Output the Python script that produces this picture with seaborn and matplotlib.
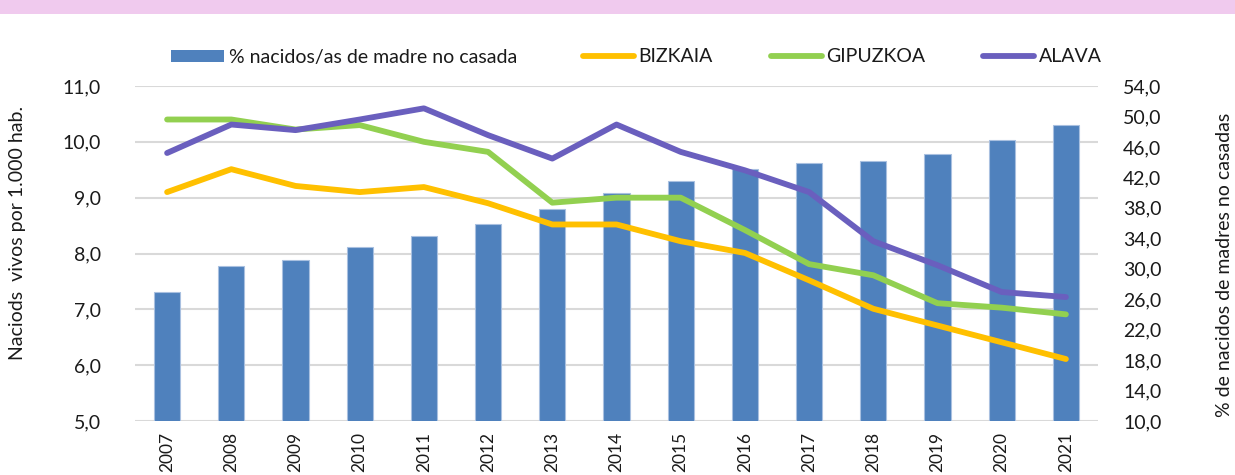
import numpy as np
import pandas as pd
import matplotlib
matplotlib.use("Agg")
import matplotlib.pyplot as plt
from matplotlib.patches import Rectangle, Patch
from matplotlib.lines import Line2D
from matplotlib.ticker import FuncFormatter, FixedLocator
import seaborn as sns

# ---- data ----
years = ["2007", "2008", "2009", "2010", "2011", "2012", "2013", "2014",
         "2015", "2016", "2017", "2018", "2019", "2020", "2021"]
pct_no_casada = [27.0, 30.4, 31.1, 32.8, 34.3, 35.9, 37.9, 39.9,
                 41.5, 43.1, 43.9, 44.2, 45.1, 46.9, 48.9]
bizkaia = [9.10, 9.51, 9.21, 9.10, 9.19, 8.90, 8.52, 8.52,
           8.22, 8.01, 7.52, 7.01, 6.71, 6.41, 6.11]
gipuzkoa = [10.40, 10.40, 10.22, 10.30, 10.00, 9.82, 8.91, 9.00,
            9.00, 8.42, 7.81, 7.61, 7.11, 7.03, 6.91]
alava = [9.80, 10.31, 10.21, 10.40, 10.60, 10.12, 9.70, 10.31,
         9.82, 9.49, 9.10, 8.22, 7.79, 7.31, 7.22]
left_ticks = [5.0, 6.0, 7.0, 8.0, 9.0, 10.0, 11.0]
right_ticks = [10.0, 14.0, 18.0, 22.0, 26.0, 30.0, 34.0, 38.0, 42.0, 46.0, 50.0, 54.0]

bar_label = "% nacidos/as de madre no casada"
series_names = ["BIZKAIA", "GIPUZKOA", "ALAVA"]
colors = {"BIZKAIA": "#FFC000", "GIPUZKOA": "#92D050", "ALAVA": "#6A5FBE"}
bar_color = "#4F81BD"

sns.set_theme(style="white")
plt.rcParams["font.family"] = ["Lato", "DejaVu Sans"]
FS = 14
TXT = "#1a1a1a"

W, H = 1235, 475
fig = plt.figure(figsize=(W / 100, H / 100), dpi=100)
fig.patch.set_facecolor("white")
fig.patches.append(Rectangle((0, 1 - 14 / H), 1, 14 / H, transform=fig.transFigure,
                             facecolor="#F0CAEE", edgecolor="none", zorder=0))

left, right, top, bottom = 135 / W, 1098 / W, 1 - 86 / H, 1 - 421 / H
ax = fig.add_axes([left, bottom, right - left, top - bottom])
ax2 = ax.twinx()
ax3 = ax.twinx()

df_bar = pd.DataFrame({"year": years, "pct": pct_no_casada})
df_lines = pd.DataFrame({"pos": np.arange(len(years)), "BIZKAIA": bizkaia,
                         "GIPUZKOA": gipuzkoa, "ALAVA": alava}).melt(
    id_vars="pos", var_name="serie", value_name="val")

# bars (right scale)
sns.barplot(data=df_bar, x="year", y="pct", ax=ax2, color=bar_color, width=0.41,
            saturation=1, edgecolor="#A9C0E0", linewidth=0.8)
ax2.set_ylim(10, 54)
ax2.yaxis.set_major_locator(FixedLocator(right_ticks))

# lines (left scale)
sns.lineplot(data=df_lines, x="pos", y="val", hue="serie", palette=colors,
             hue_order=series_names, ax=ax3, linewidth=4.2, legend=False,
             solid_capstyle="round")
ax3.set_ylim(5, 11)
ax3.set_yticks([])
ax3.set_ylabel("")
ax3.set_xlabel("")

# grid axis (left)
ax.set_ylim(5, 11)
ax.yaxis.set_major_locator(FixedLocator(left_ticks))
ax.grid(axis="y", color="#D9D9D9", linewidth=1.5)
ax.set_axisbelow(True)
for a in (ax, ax2, ax3):
    a.set_xlim(-0.5, len(years) - 0.5)

ax.set_xticks(np.arange(len(years)))
ax.set_xticklabels(years)

fmt = FuncFormatter(lambda v, p: f"{v:.1f}".replace(".", ","))
ax.yaxis.set_major_formatter(fmt)
ax2.yaxis.set_major_formatter(fmt)

for a in (ax, ax2, ax3):
    for s in a.spines.values():
        s.set_visible(False)
    a.patch.set_visible(False)

ax.tick_params(axis="y", length=0, pad=24.5, labelsize=FS, labelcolor=TXT)
ax2.tick_params(axis="y", length=0, pad=18, labelsize=FS, labelcolor=TXT)
ax.tick_params(axis="x", length=0, pad=8, labelsize=12.5, labelcolor=TXT,
               labelrotation=90, labelbottom=True)
ax2.set_xlabel("")
ax2.set_ylabel("")
ax.set_ylabel("")
ax.set_xlabel("")

fig.text(18 / W, 1 - 233 / H, "Naciods  vivos por 1.000 hab.", rotation=90,
         ha="center", va="center", fontsize=FS, color=TXT)
fig.text(1224 / W, 1 - 265 / H, "% de nacidos de madres no casadas", rotation=90,
         ha="center", va="center", fontsize=FS, color=TXT)

# legends, placed individually
ly = 1 - 57 / H
common = dict(loc="center left", frameon=False, borderpad=0, borderaxespad=0,
              handletextpad=0.26, fontsize=FS, labelcolor=TXT)
fig.legend(handles=[Patch(facecolor=bar_color, edgecolor="none")], labels=[bar_label],
           bbox_to_anchor=(171 / W, ly), handleheight=0.57, handlelength=2.7, **common)
starts = {"BIZKAIA": 583, "GIPUZKOA": 771, "ALAVA": 983}
for name in series_names:
    h = Line2D([], [], color=colors[name], linewidth=4.2, solid_capstyle="round")
    fig.legend(handles=[h], labels=[name], bbox_to_anchor=(starts[name] / W, ly),
               handlelength=2.6, **common)

fig.savefig("out.png", dpi=100)
